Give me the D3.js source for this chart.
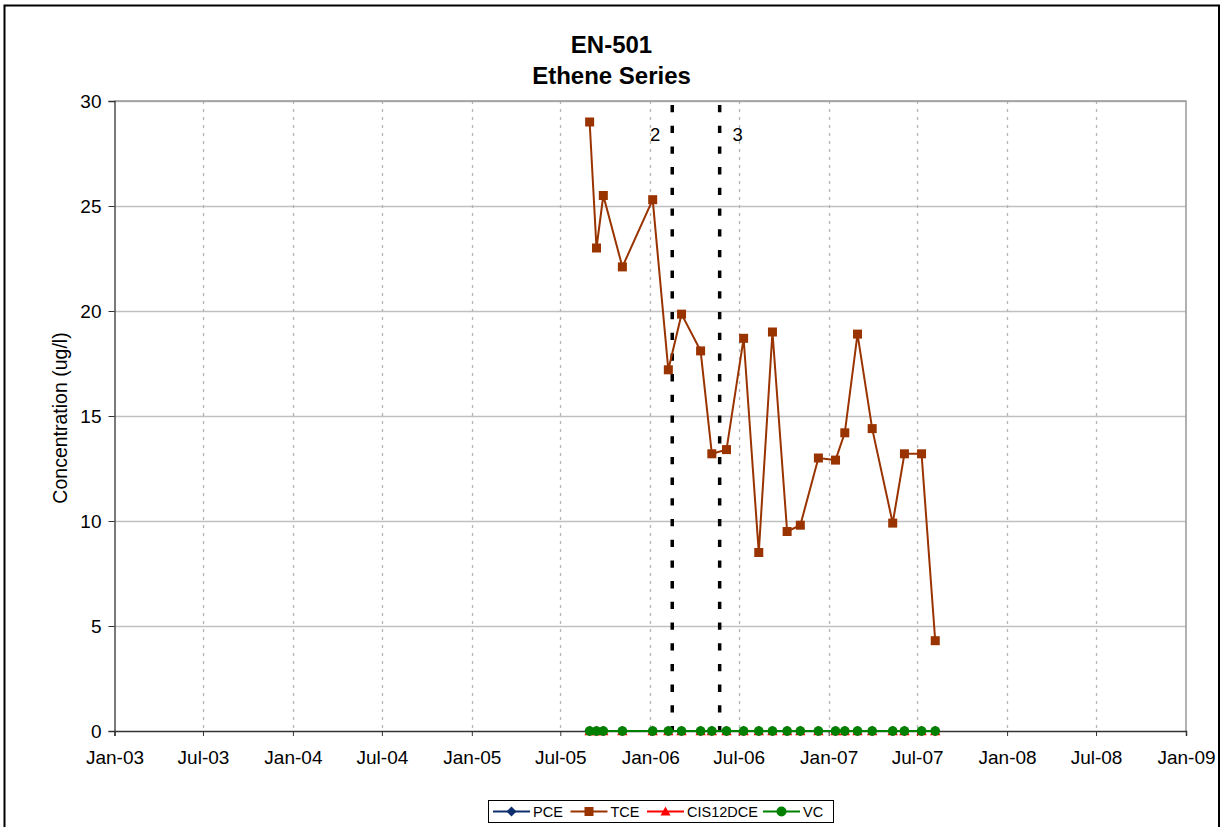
<!DOCTYPE html>
<html><head><meta charset="utf-8">
<script src="https://cdn.jsdelivr.net/npm/d3@7"></script>
<style>
html,body{margin:0;padding:0;background:#fff;}
text{font-family:"Liberation Sans",Arial,sans-serif;}
</style></head>
<body><svg id="c" width="1225" height="827"></svg>
<script>
const sampleDates = ["2005-08-30","2005-09-13","2005-09-27","2005-11-05","2006-01-06","2006-02-07","2006-03-06","2006-04-14","2006-05-07","2006-06-06","2006-07-11","2006-08-11","2006-09-08","2006-10-08","2006-11-04","2006-12-11","2007-01-15","2007-02-03","2007-03-01","2007-03-31","2007-05-12","2007-06-05","2007-07-10","2007-08-07"];
const pce  = [0,0,0,0,0,0,0,0,0,0,0,0,0,0,0,0,0,0,0,0,0,0,0,0];
const tce  = [29.0,23.0,25.5,22.1,25.3,17.2,19.85,18.1,13.2,13.4,18.7,8.5,19.0,9.5,9.8,13.0,12.9,14.2,18.9,14.4,9.9,13.2,13.2,4.3];
const cis12dce = [0,0,0,0,0,0,0,0,0,0,0,0,0,0,0,0,0,0,0,0,0,0,0,0];
const vc   = [0,0,0,0,0,0,0,0,0,0,0,0,0,0,0,0,0,0,0,0,0,0,0,0];
const seriesNames = ["PCE","TCE","CIS12DCE","VC"];
const seriesColors = ["#0d2f6e","#993300","#ff0000","#008000"];
const seriesMarkers = ["diamond","square","triangle","circle"];
const eventDates = ["2006-02-15","2006-05-23"];
const eventLabels = ["2","3"];
const yTicks = [0,5,10,15,20,25,30];
const xStart = "2003-01-01", xEnd = "2009-01-01";
const titleLines = ["EN-501","Ethene Series"];
const yLabel = "Concentration (ug/l)";

const parse = d3.timeParse("%Y-%m-%d");
const svg = d3.select("#c");
const L = 114.5, R = 1186, T = 101, B = 731;
const x = d3.scaleTime().domain([parse(xStart), parse(xEnd)]).range([L, R]);
const y = d3.scaleLinear().domain([0, 30]).range([B, T]);
const xTicks = d3.timeMonth.every(6).range(parse(xStart), d3.timeDay.offset(parse(xEnd),1));

// outer border
svg.append("rect").attr("x",4.5).attr("y",5.5).attr("width",1214.5).attr("height",830)
  .attr("fill","#fff").attr("stroke","#000").attr("stroke-width",2);

// horizontal gridlines
svg.append("g").selectAll("line").data(yTicks.filter(v=>v>0)).join("line")
  .attr("x1",L).attr("x2",R).attr("y1",d=>Math.round(y(d))+0.5).attr("y2",d=>Math.round(y(d))+0.5)
  .attr("stroke","#c0c0c0").attr("stroke-width",1.5);
// vertical dashed gridlines
svg.append("g").selectAll("line").data(xTicks.slice(1,-1)).join("line")
  .attr("x1",d=>Math.round(x(d))+0.5).attr("x2",d=>Math.round(x(d))+0.5).attr("y1",T).attr("y2",B)
  .attr("stroke","#b4b4b4").attr("stroke-width",1.3).attr("stroke-dasharray","3,5");
// plot border top/right
svg.append("path").attr("d",`M${L},${T}H${R}V${B}`).attr("fill","none").attr("stroke","#999").attr("stroke-width",1.5);

// axes
const yAxis = d3.axisLeft(y).tickValues(yTicks).tickSize(6).tickPadding(7);
const gy = svg.append("g").attr("transform",`translate(${L},0)`).call(yAxis);
gy.select(".domain").attr("stroke","#333").attr("stroke-width",1.3);
gy.selectAll(".tick line").attr("stroke","#333");
gy.selectAll("text").attr("font-size",19).attr("fill","#000");

const xAxis = d3.axisBottom(x).tickValues(xTicks).tickFormat(d3.timeFormat("%b-%y")).tickSize(5).tickPadding(15);
const gx = svg.append("g").attr("transform",`translate(0,${B})`).call(xAxis);
gx.select(".domain").attr("stroke","#333").attr("stroke-width",1.5);
gx.selectAll(".tick line").attr("stroke","#333");
gx.selectAll("text").attr("font-size",19).attr("fill","#000");

// event lines
svg.append("g").selectAll("line").data(eventDates).join("line")
  .attr("x1",d=>x(parse(d))).attr("x2",d=>x(parse(d))).attr("y1",T+4).attr("y2",B)
  .attr("stroke","#000").attr("stroke-width",3.5).attr("stroke-dasharray","7.3,13.4");
svg.append("g").selectAll("text").data(eventDates).join("text")
  .attr("x",(d,i)=> i===0 ? x(parse(d))-17 : x(parse(d))+18)
  .attr("y",141).attr("text-anchor","middle").attr("font-size",18.5).text((d,i)=>eventLabels[i]);

// series
const allSeries = [pce, tce, cis12dce, vc];
function marker(g, type, color, cx, cy, s) {
  if (type==="square") g.append("rect").attr("x",cx-s).attr("y",cy-s).attr("width",2*s).attr("height",2*s).attr("fill",color);
  else if (type==="circle") g.append("circle").attr("cx",cx).attr("cy",cy).attr("r",s).attr("fill",color);
  else if (type==="triangle") g.append("path").attr("d",`M${cx},${cy-s}L${cx+s},${cy+s*0.8}L${cx-s},${cy+s*0.8}Z`).attr("fill",color);
  else g.append("path").attr("d",`M${cx},${cy-s}L${cx+s},${cy}L${cx},${cy+s}L${cx-s},${cy}Z`).attr("fill",color);
}
const line = d3.line().x(d=>x(d[0])).y(d=>y(d[1]));
allSeries.forEach((vals,i)=>{
  const pts = sampleDates.map((d,j)=>[parse(d), vals[j]]);
  const g = svg.append("g");
  g.append("path").datum(pts).attr("d",line).attr("fill","none").attr("stroke",seriesColors[i]).attr("stroke-width",2);
  const size = seriesMarkers[i]==="square"?4.5:(seriesMarkers[i]==="circle"?4.8:5.2);
  pts.forEach(p=>marker(g, seriesMarkers[i], seriesColors[i], x(p[0]), y(p[1]), size));
});

// title
svg.append("text").attr("x",611.5).attr("y",53).attr("text-anchor","middle").attr("font-size",24).attr("font-weight","bold").text(titleLines[0]);
svg.append("text").attr("x",611.5).attr("y",84).attr("text-anchor","middle").attr("font-size",24).attr("font-weight","bold").text(titleLines[1]);
// y label
svg.append("text").attr("transform",`translate(66.5,${(T+B)/2+2}) rotate(-90)`).attr("text-anchor","middle").attr("font-size",19.5).text(yLabel);

// legend
const lg = svg.append("g");
lg.append("rect").attr("x",488.5).attr("y",800.5).attr("width",345).attr("height",22).attr("fill","#fff").attr("stroke","#000").attr("stroke-width",1);
const legX = [493, 570.5, 647, 763];
seriesNames.forEach((n,i)=>{
  const x0 = legX[i], cy = 811.5;
  lg.append("line").attr("x1",x0).attr("x2",x0+37).attr("y1",cy).attr("y2",cy).attr("stroke",seriesColors[i]).attr("stroke-width",2);
  marker(lg, seriesMarkers[i], seriesColors[i], x0+18.5, cy, seriesMarkers[i]==="square"?4.5:5);
  lg.append("text").attr("x",x0+40).attr("y",cy+5.5).attr("font-size",14.5).text(n);
});
</script></body></html>
